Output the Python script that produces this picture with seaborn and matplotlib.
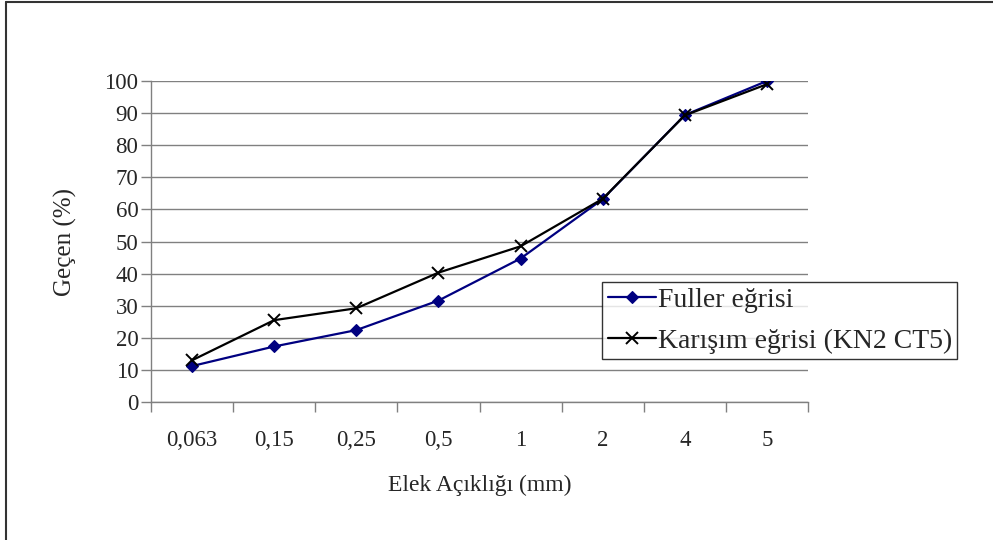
import matplotlib
matplotlib.use("Agg")
import matplotlib.pyplot as plt
import seaborn as sns
import pandas as pd
from matplotlib.lines import Line2D

sieve_labels = ["0,063", "0,15", "0,25", "0,5", "1", "2", "4", "5"]
fuller = [11.2, 17.3, 22.4, 31.6, 44.7, 63.2, 89.4, 100.0]
karisim = [13.0, 25.5, 29.2, 40.3, 48.5, 63.3, 89.3, 99.0]
series_names = ["Fuller eğrisi", "Karışım eğrisi (KN2 CT5)"]
y_ticks = list(range(0, 101, 10))

sns.set_style("white")
plt.rcParams["font.family"] = ["Liberation Serif", "DejaVu Serif"]

fig = plt.figure(figsize=(9.93, 5.4), dpi=100)
ax = fig.add_axes([151/993, 1-402/540, (808-151)/993, (402-81)/540])

df_f = pd.DataFrame({"x": list(range(len(sieve_labels))), "y": fuller})
df_k = pd.DataFrame({"x": list(range(len(sieve_labels))), "y": karisim})

sns.lineplot(data=df_f, x="x", y="y", ax=ax, color="#000080", marker="D",
             markersize=6.5, markeredgecolor="#000080", markeredgewidth=0.8,
             linewidth=1.6, label=series_names[0], sort=False)
sns.lineplot(data=df_k, x="x", y="y", ax=ax, color="black", marker="x",
             markersize=8, markeredgecolor="black", markeredgewidth=1.4,
             linewidth=1.6, label=series_names[1], sort=False)

ax.set_xlim(-0.5, len(sieve_labels) - 0.5)
ax.set_ylim(0, 100)
ax.set_yticks(y_ticks)
ax.set_xticks(range(len(sieve_labels)))
ax.set_xticklabels(sieve_labels)
ax.set_xticks([i - 0.5 for i in range(len(sieve_labels) + 1)], minor=True)

ax.grid(axis="y", color="#808080", linewidth=1.0)
ax.set_axisbelow(True)
for s in ["top", "right"]:
    ax.spines[s].set_visible(False)
for s in ["left", "bottom"]:
    ax.spines[s].set_color("#808080")
    ax.spines[s].set_linewidth(1.0)

ax.tick_params(axis="y", which="major", length=7, width=1, color="#808080",
               labelsize=16.5, pad=2, left=True)
ax.tick_params(axis="x", which="major", length=0, labelsize=16.5, pad=20)
ax.tick_params(axis="x", which="minor", length=7, width=1, color="#808080",
               bottom=True)

ax.set_xlabel("Elek Açıklığı (mm)", fontsize=17, labelpad=17)
ax.set_ylabel("Geçen (%)", fontsize=18, labelpad=20)

leg = ax.legend(loc="upper left", bbox_to_anchor=((602-151)/657, (402-282)/321),
                frameon=True, fancybox=False, fontsize=20, borderpad=0.2,
                handlelength=1.75, handletextpad=0.05, labelspacing=0.55,
                borderaxespad=0)
leg.get_frame().set_edgecolor("black")
leg.get_frame().set_linewidth(1.0)

fig.add_artist(Line2D([6/993, 6/993], [0, 1-2/540], transform=fig.transFigure,
                      color="#333333", linewidth=1.5))
fig.add_artist(Line2D([6/993, 1], [1-2/540, 1-2/540], transform=fig.transFigure,
                      color="#333333", linewidth=1.5))

fig.savefig("out.png", dpi=100)
